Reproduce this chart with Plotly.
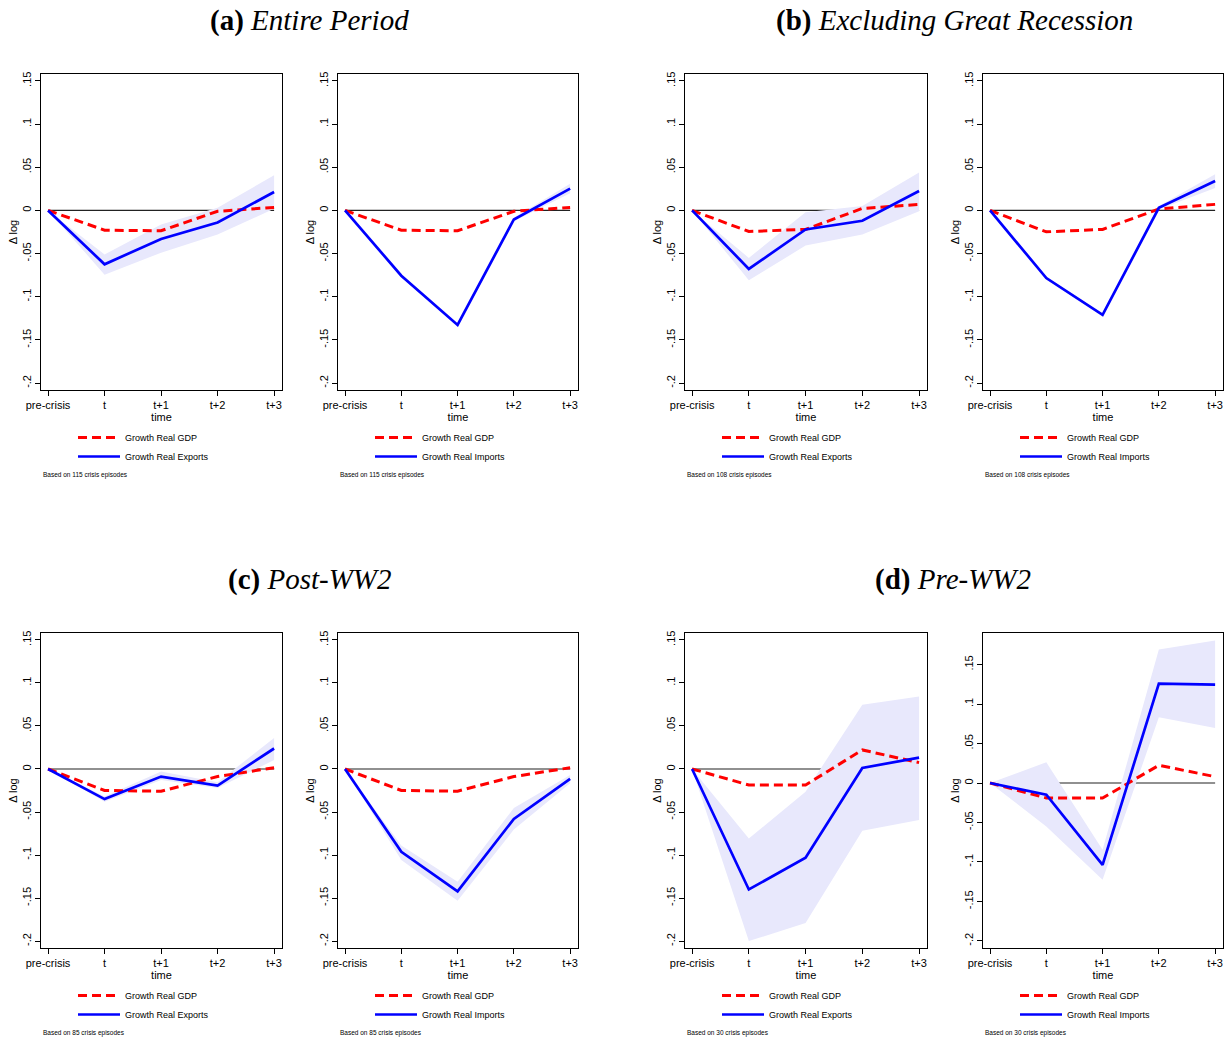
import plotly.graph_objects as go

periods = ["pre-crisis", "t", "t+1", "t+2", "t+3"]
xpos = [0, 1, 2, 3, 4]

# (a) Entire Period
a_gdp = [0, -0.0229, -0.0236, -0.0010, 0.0035]
a_exp = [0, -0.0624, -0.0330, -0.0140, 0.0213]
a_exp_hi = [0, -0.0510, -0.0163, 0.0030, 0.0407]
a_exp_lo = [0, -0.0744, -0.0490, -0.0280, 0.0020]
a_imp = [0, -0.0756, -0.1326, -0.0105, 0.0252]
a_imp_hi = [0, -0.0740, -0.1306, -0.0085, 0.0310]
a_imp_lo = [0, -0.0772, -0.1346, -0.0125, 0.0200]

# (b) Excluding Great Recession
b_gdp = [0, -0.0244, -0.0220, 0.0023, 0.0070]
b_exp = [0, -0.0678, -0.0221, -0.0120, 0.0225]
b_exp_hi = [0, -0.0550, -0.0020, 0.0050, 0.0438]
b_exp_lo = [0, -0.0810, -0.0407, -0.0280, -0.0010]
b_gdp2 = [0, -0.0248, -0.0220, 0.0016, 0.0070]
b_imp = [0, -0.0783, -0.1210, 0.0030, 0.0340]
b_imp_hi = [0, -0.0765, -0.1190, 0.0050, 0.0420]
b_imp_lo = [0, -0.0800, -0.1230, 0.0010, 0.0260]

# (c) Post-WW2
c_gdp = [0, -0.0250, -0.0258, -0.0088, 0.0015]
c_exp = [0, -0.0350, -0.0088, -0.0192, 0.0238]
c_exp_hi = [0, -0.0320, -0.0030, -0.0154, 0.0360]
c_exp_lo = [0, -0.0380, -0.0127, -0.0220, 0.0104]
c_imp = [0, -0.0962, -0.1423, -0.0580, -0.0115]
c_imp_hi = [0, -0.0888, -0.1310, -0.0454, -0.0069]
c_imp_lo = [0, -0.1058, -0.1530, -0.0704, -0.0165]

# (d) Pre-WW2
d_gdp = [0, -0.0186, -0.0186, 0.0221, 0.0074]
d_exp = [0, -0.1400, -0.1030, 0.0012, 0.0132]
d_exp_hi = [0, -0.0808, -0.0264, 0.0746, 0.0843]
d_exp_lo = [0, -0.2000, -0.1790, -0.0718, -0.0594]
d_gdp2 = [0, -0.0190, -0.0190, 0.0224, 0.0080]
d_imp = [0, -0.0148, -0.1036, 0.1260, 0.1247]
d_imp_hi = [0, 0.0262, -0.0846, 0.1690, 0.1805]
d_imp_lo = [0, -0.0550, -0.1226, 0.0833, 0.0698]

titles = ["<b>(a)</b> <i>Entire Period</i>", "<b>(b)</b> <i>Excluding Great Recession</i>",
          "<b>(c)</b> <i>Post-WW2</i>", "<b>(d)</b> <i>Pre-WW2</i>"]
episodes = [115, 115, 108, 108, 85, 85, 30, 30]

panels = [
    (a_gdp, a_exp, a_exp_hi, a_exp_lo, "Growth Real Exports"),
    (a_gdp, a_imp, a_imp_hi, a_imp_lo, "Growth Real Imports"),
    (b_gdp, b_exp, b_exp_hi, b_exp_lo, "Growth Real Exports"),
    (b_gdp2, b_imp, b_imp_hi, b_imp_lo, "Growth Real Imports"),
    (c_gdp, c_exp, c_exp_hi, c_exp_lo, "Growth Real Exports"),
    (c_gdp, c_imp, c_imp_hi, c_imp_lo, "Growth Real Imports"),
    (d_gdp, d_exp, d_exp_hi, d_exp_lo, "Growth Real Exports"),
    (d_gdp2, d_imp, d_imp_hi, d_imp_lo, "Growth Real Imports"),
]

W, H = 1231, 1040
cols_px = [(41, 282), (338, 578), (685, 927), (983, 1223)]
rows_px = [(74, 390), (633, 948)]

BAND = "rgb(232,232,252)"
fig = go.Figure()
layout = dict(template="none", width=W, height=H, margin=dict(l=0, r=0, t=0, b=0, autoexpand=False),
              plot_bgcolor="white", paper_bgcolor="white",
              font=dict(family="Liberation Sans, Arial", color="black"),
              showlegend=True, hovermode=False)
annotations = []

for i, (gdp, trade, hi, lo, tname) in enumerate(panels):
    r, c = divmod(i, 4)
    k = i + 1
    xa = "x" if k == 1 else f"x{k}"
    ya = "y" if k == 1 else f"y{k}"
    lg = "legend" if k == 1 else f"legend{k}"
    # zero line
    fig.add_trace(go.Scatter(x=[xpos[0], xpos[-1]], y=[0, 0], mode="lines",
                             line=dict(color="#222", width=1.1), showlegend=False,
                             hoverinfo="skip", xaxis=xa, yaxis=ya))
    # CI band
    fig.add_trace(go.Scatter(x=xpos, y=lo, mode="lines", line=dict(width=0, color=BAND),
                             showlegend=False, hoverinfo="skip", xaxis=xa, yaxis=ya))
    fig.add_trace(go.Scatter(x=xpos, y=hi, mode="lines", line=dict(width=0, color=BAND),
                             fill="tonexty", fillcolor=BAND, showlegend=False,
                             hoverinfo="skip", xaxis=xa, yaxis=ya))
    fig.add_trace(go.Scatter(x=xpos, y=gdp, mode="lines", name="Growth Real GDP",
                             line=dict(color="#ff0000", width=3, dash="9px,5px"),
                             xaxis=xa, yaxis=ya, legend=lg))
    fig.add_trace(go.Scatter(x=xpos, y=trade, mode="lines", name=tname,
                             line=dict(color="#0000ff", width=2.7),
                             xaxis=xa, yaxis=ya, legend=lg))

    x0, x1 = cols_px[c]
    y0, y1 = rows_px[r]
    yr = [-0.208, 0.158] if k != 8 else [-0.209, 0.190]
    layout["xaxis" if k == 1 else f"xaxis{k}"] = dict(
        domain=[x0 / W, x1 / W], anchor=ya, range=[-0.125, 4.14], automargin=False,
        tickvals=xpos, ticktext=periods, ticks="outside", ticklen=5, tickwidth=1,
        tickcolor="black", showline=True, linecolor="black", linewidth=1, mirror=True,
        showgrid=False, zeroline=False, tickfont=dict(size=11),
        title=dict(text="time", font=dict(size=11), standoff=0))
    yt = [-0.2, -0.15, -0.1, -0.05, 0, 0.05, 0.1, 0.15]
    layout["yaxis" if k == 1 else f"yaxis{k}"] = dict(
        domain=[1 - y1 / H, 1 - y0 / H], anchor=xa, range=yr, automargin=False,
        tickvals=yt, ticktext=["-.2", "-.15", "-.1", "-.05", "0", ".05", ".1", ".15"],
        tickangle=-90, ticks="outside", ticklen=5, tickwidth=1, tickcolor="black",
        showline=True, linecolor="black", linewidth=1, mirror=True,
        showgrid=False, zeroline=False, tickfont=dict(size=11),
        title=dict(text="\u0394 log", font=dict(size=11), standoff=0))
    layout[lg] = dict(x=(x0 + 32) / W, y=1 - (y1 + 33) / H, xanchor="left", yanchor="top",
                      font=dict(size=9, family="Liberation Sans, Arial"),
                      bgcolor="rgba(0,0,0,0)", borderwidth=0, itemwidth=42,
                      tracegroupgap=0, traceorder="normal")
    annotations.append(dict(text=f"Based on {episodes[i]} crisis episodes",
                            x=x0 / W, y=1 - (y1 + 85) / H, xref="paper", yref="paper",
                            xanchor="left", yanchor="middle", showarrow=False,
                            font=dict(size=6.5)))

title_pos = [(309, 20), (954, 20), (309, 579), (953, 579)]
for t, (cx, cy) in zip(titles, title_pos):
    annotations.append(dict(text=t, x=cx / W, y=1 - cy / H, xref="paper", yref="paper",
                            xanchor="center", yanchor="middle", showarrow=False,
                            font=dict(size=29, family="Liberation Serif, serif")))

layout["annotations"] = annotations
fig.update_layout(**layout)
fig.write_html("out.html", config={"displayModeBar": False},
               post_script="document.body.style.margin='0';document.body.style.overflow='hidden';")
